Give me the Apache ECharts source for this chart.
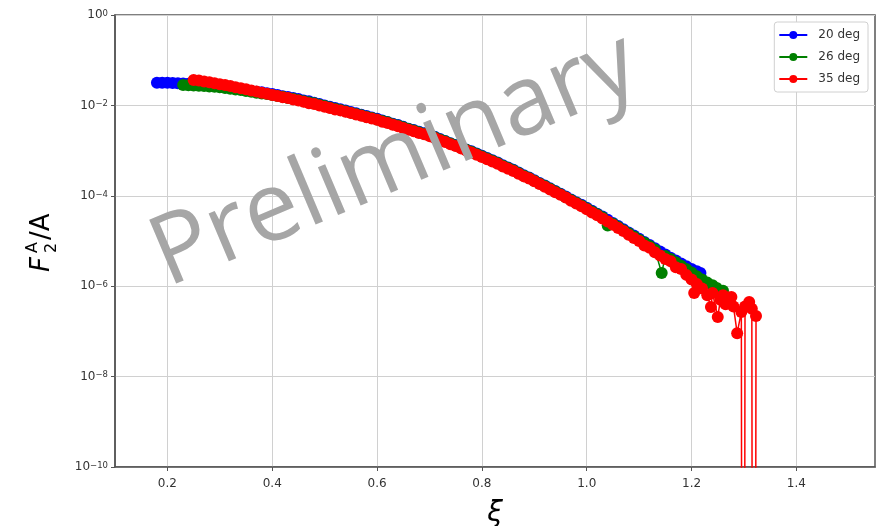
<!DOCTYPE html>
<html>
<head>
  <meta charset="UTF-8">
  <title>F2A/A vs xi</title>
  <script src="https://cdn.jsdelivr.net/npm/echarts@6.0.0/dist/echarts.min.js"></script>
  <style>
    html, body {
      margin: 0;
      padding: 0;
      width: 100%;
      height: 100%;
      background: #fff;
    }
    #main {
      width: 882px;
      height: 526px;
    }
  </style>
</head>
<body>
  <div id="main"></div>
  <script>
    const seriesNames = ['20 deg', '26 deg', '35 deg'];
    const seriesColors = ['#0000ff', '#008000', '#ff0000'];

    const xTicks = [0.2, 0.4, 0.6, 0.8, 1.0, 1.2, 1.4];

    // 20 deg
    const xi20 = [0.18, 0.19, 0.20, 0.21, 0.22, 0.23, 0.24, 0.25, 0.26, 0.27, 0.28, 0.29, 0.30,
      0.31, 0.32, 0.33, 0.34, 0.35, 0.36, 0.37, 0.38, 0.39, 0.40,
      0.41, 0.42, 0.43, 0.44, 0.45, 0.46, 0.47, 0.48, 0.49, 0.50,
      0.51, 0.52, 0.53, 0.54, 0.55, 0.56, 0.57, 0.58, 0.59, 0.60,
      0.61, 0.62, 0.63, 0.64, 0.65, 0.66, 0.67, 0.68, 0.69, 0.70,
      0.71, 0.72, 0.73, 0.74, 0.75, 0.76, 0.77, 0.78, 0.79, 0.80,
      0.81, 0.82, 0.83, 0.84, 0.85, 0.86, 0.87, 0.88, 0.89, 0.90,
      0.91, 0.92, 0.93, 0.94, 0.95, 0.96, 0.97, 0.98, 0.99, 1.00,
      1.01, 1.02, 1.03, 1.04, 1.05, 1.06, 1.07, 1.08, 1.09, 1.10,
      1.11, 1.12, 1.13, 1.14, 1.15, 1.16, 1.17, 1.18, 1.19, 1.20, 1.21, 1.217];
    const f20 = [3.16e-2, 3.16e-2, 3.16e-2, 3.13e-2, 3.09e-2, 3.05e-2, 3.02e-2, 2.95e-2, 2.88e-2, 2.82e-2, 2.75e-2, 2.69e-2, 2.63e-2,
      2.51e-2, 2.45e-2, 2.34e-2, 2.29e-2, 2.19e-2, 2.09e-2, 2.00e-2, 1.95e-2, 1.86e-2, 1.78e-2,
      1.70e-2, 1.60e-2, 1.53e-2, 1.45e-2, 1.38e-2, 1.29e-2, 1.23e-2, 1.15e-2, 1.07e-2, 1.00e-2,
      9.33e-3, 8.71e-3, 8.22e-3, 7.67e-3, 7.16e-3, 6.68e-3, 6.24e-3, 5.82e-3, 5.43e-3, 5.07e-3,
      4.62e-3, 4.32e-3, 3.94e-3, 3.67e-3, 3.35e-3, 3.05e-3, 2.85e-3, 2.60e-3, 2.43e-3, 2.21e-3,
      2.02e-3, 1.80e-3, 1.64e-3, 1.46e-3, 1.33e-3, 1.19e-3, 1.06e-3, 9.66e-4, 8.61e-4, 7.67e-4,
      6.84e-4, 6.10e-4, 5.43e-4, 4.73e-4, 4.22e-4, 3.76e-4, 3.27e-4, 2.85e-4, 2.54e-4, 2.21e-4,
      1.93e-4, 1.68e-4, 1.46e-4, 1.27e-4, 1.11e-4, 9.66e-5, 8.32e-5, 7.24e-5, 6.31e-5, 5.43e-5,
      4.68e-5, 4.03e-5, 3.47e-5, 2.95e-5, 2.51e-5, 2.14e-5, 1.82e-5, 1.55e-5, 1.32e-5, 1.12e-5,
      9.55e-6, 8.13e-6, 6.92e-6, 5.89e-6, 5.01e-6, 4.27e-6, 3.72e-6, 3.16e-6, 2.75e-6, 2.40e-6, 2.14e-6, 1.95e-6];

    // 26 deg
    const xi26 = [0.23, 0.24, 0.25, 0.26, 0.27, 0.28, 0.29, 0.30,
      0.31, 0.32, 0.33, 0.34, 0.35, 0.36, 0.37, 0.38, 0.39, 0.40,
      0.41, 0.42, 0.43, 0.44, 0.45, 0.46, 0.47, 0.48, 0.49, 0.50,
      0.51, 0.52, 0.53, 0.54, 0.55, 0.56, 0.57, 0.58, 0.59, 0.60,
      0.61, 0.62, 0.63, 0.64, 0.65, 0.66, 0.67, 0.68, 0.69, 0.70,
      0.71, 0.72, 0.73, 0.74, 0.75, 0.76, 0.77, 0.78, 0.79, 0.80,
      0.81, 0.82, 0.83, 0.84, 0.85, 0.86, 0.87, 0.88, 0.89, 0.90,
      0.91, 0.92, 0.93, 0.94, 0.95, 0.96, 0.97, 0.98, 0.99, 1.00,
      1.01, 1.02, 1.03, 1.04, 1.05, 1.06, 1.07, 1.08, 1.09, 1.10,
      1.11, 1.12, 1.13, 1.143, 1.15, 1.16, 1.17, 1.18, 1.19, 1.20,
      1.21, 1.22, 1.23, 1.24, 1.248, 1.26];
    const f26 = [2.82e-2, 2.79e-2, 2.75e-2, 2.72e-2, 2.69e-2, 2.63e-2, 2.57e-2, 2.51e-2,
      2.43e-2, 2.34e-2, 2.26e-2, 2.19e-2, 2.09e-2, 2.00e-2, 1.91e-2, 1.84e-2, 1.78e-2, 1.70e-2,
      1.62e-2, 1.55e-2, 1.46e-2, 1.40e-2, 1.32e-2, 1.24e-2, 1.17e-2, 1.11e-2, 1.04e-2, 9.66e-3,
      9.02e-3, 8.41e-3, 7.94e-3, 7.41e-3, 6.92e-3, 6.46e-3, 6.03e-3, 5.62e-3, 5.25e-3, 4.90e-3,
      4.52e-3, 4.22e-3, 3.85e-3, 3.59e-3, 3.27e-3, 2.99e-3, 2.79e-3, 2.54e-3, 2.37e-3, 2.16e-3,
      1.97e-3, 1.76e-3, 1.60e-3, 1.43e-3, 1.30e-3, 1.16e-3, 1.04e-3, 9.44e-4, 8.41e-4, 7.50e-4,
      6.68e-4, 5.96e-4, 5.31e-4, 4.62e-4, 4.12e-4, 3.67e-4, 3.20e-4, 2.79e-4, 2.48e-4, 2.16e-4,
      1.88e-4, 1.64e-4, 1.43e-4, 1.24e-4, 1.08e-4, 9.33e-5, 8.04e-5, 7.00e-5, 6.10e-5, 5.25e-5,
      4.52e-5, 3.89e-5, 3.35e-5, 2.19e-5, 2.40e-5, 2.04e-5, 1.74e-5, 1.48e-5, 1.26e-5, 1.07e-5,
      9.12e-6, 7.76e-6, 6.46e-6, 1.95e-6, 4.68e-6, 3.98e-6, 3.39e-6, 2.82e-6, 2.40e-6, 2.00e-6,
      1.66e-6, 1.41e-6, 1.20e-6, 1.05e-6, 9.12e-7, 7.94e-7];

    // 35 deg (1e-40 = points at or below zero, drawn off the bottom of the log axis)
    const xi35 = [0.25, 0.26, 0.27, 0.28, 0.29, 0.30, 0.31, 0.32, 0.33, 0.34, 0.35, 0.36, 0.37, 0.38, 0.39, 0.40,
      0.41, 0.42, 0.43, 0.44, 0.45, 0.46, 0.47, 0.48, 0.49, 0.50, 0.51, 0.52, 0.53, 0.54, 0.55,
      0.56, 0.57, 0.58, 0.59, 0.60, 0.61, 0.62, 0.63, 0.64, 0.65, 0.66, 0.67, 0.68, 0.69, 0.70,
      0.71, 0.72, 0.73, 0.74, 0.75, 0.76, 0.77, 0.78, 0.79, 0.80, 0.81, 0.82, 0.83, 0.84, 0.85,
      0.86, 0.87, 0.88, 0.89, 0.90, 0.91, 0.92, 0.93, 0.94, 0.95, 0.96, 0.97, 0.98, 0.99, 1.00,
      1.01, 1.02, 1.03, 1.04, 1.05, 1.06, 1.07, 1.08, 1.09, 1.10,
      1.11, 1.12, 1.13, 1.14, 1.15, 1.16, 1.17, 1.18, 1.19, 1.20, 1.205, 1.21, 1.22, 1.23, 1.237,
      1.24, 1.25, 1.255, 1.26, 1.265, 1.27, 1.276, 1.28, 1.287, 1.295, 1.2985, 1.302, 1.310, 1.315, 1.319, 1.323];
    const f35 = [3.63e-2, 3.55e-2, 3.39e-2, 3.24e-2, 3.09e-2, 2.95e-2, 2.82e-2, 2.69e-2, 2.51e-2, 2.40e-2, 2.29e-2, 2.14e-2, 2.04e-2, 1.91e-2, 1.82e-2, 1.70e-2,
      1.62e-2, 1.51e-2, 1.45e-2, 1.35e-2, 1.29e-2, 1.20e-2, 1.12e-2, 1.07e-2, 1.00e-2, 9.33e-3, 8.71e-3, 8.13e-3, 7.76e-3, 7.24e-3, 6.76e-3,
      6.31e-3, 5.89e-3, 5.50e-3, 5.13e-3, 4.79e-3, 4.37e-3, 4.07e-3, 3.72e-3, 3.47e-3, 3.16e-3, 2.88e-3, 2.69e-3, 2.45e-3, 2.29e-3, 2.09e-3,
      1.91e-3, 1.70e-3, 1.55e-3, 1.38e-3, 1.26e-3, 1.12e-3, 1.00e-3, 9.12e-4, 8.13e-4, 7.24e-4, 6.46e-4, 5.75e-4, 5.13e-4, 4.47e-4, 3.98e-4,
      3.55e-4, 3.09e-4, 2.69e-4, 2.40e-4, 2.09e-4, 1.82e-4, 1.58e-4, 1.38e-4, 1.20e-4, 1.05e-4, 9.12e-5, 7.76e-5, 6.76e-5, 5.89e-5, 5.01e-5,
      4.27e-5, 3.72e-5, 3.16e-5, 2.69e-5, 2.29e-5, 1.95e-5, 1.66e-5, 1.38e-5, 1.17e-5, 1.00e-5,
      7.94e-6, 7.08e-6, 5.62e-6, 4.79e-6, 3.98e-6, 3.55e-6, 2.63e-6, 2.40e-6, 1.78e-6, 1.41e-6, 7.08e-7, 1.12e-6, 8.91e-7, 6.31e-7, 3.47e-7,
      7.08e-7, 2.09e-7, 5.01e-7, 6.31e-7, 3.98e-7, 5.62e-7, 5.75e-7, 3.55e-7, 9.12e-8, 2.69e-7, 1e-40, 3.55e-7, 4.47e-7, 3.16e-7, 1e-40, 2.19e-7];

    const xiData = [xi20, xi26, xi35];
    const fData = [f20, f26, f35];

    const font = 'DejaVu Sans';
    const chart = echarts.init(document.getElementById('main'), null, { renderer: 'canvas' });

    const option = {
      animation: false,
      backgroundColor: '#fff',
      grid: {
        left: 115,
        right: 7,
        top: 15,
        bottom: 59,
        outerBoundsMode: 'none',
        containLabel: false,
        show: true,
        borderColor: '#555',
        borderWidth: 1.5,
        backgroundColor: 'transparent'
      },
      legend: {
        data: seriesNames,
        orient: 'vertical',
        right: 14,
        top: 22,
        itemWidth: 28,
        itemHeight: 10,
        itemGap: 10,
        padding: [7, 8, 7, 4],
        borderColor: '#d0d0d0',
        borderWidth: 1,
        borderRadius: 3,
        backgroundColor: '#fff',
        textStyle: { fontFamily: font, fontSize: 12, color: '#333', padding: [0, 0, 0, 6] }
      },
      xAxis: {
        type: 'value',
        min: 0.1,
        max: 1.55,
        name: 'ξ',
        nameLocation: 'middle',
        nameGap: 33,
        nameTextStyle: { fontFamily: font, fontStyle: 'italic', fontSize: 28, color: '#000' },
        axisLine: { show: true, lineStyle: { color: '#555', width: 1.5 } },
        axisTick: { show: true, length: 4, customValues: xTicks, lineStyle: { color: '#555' } },
        axisLabel: {
          customValues: xTicks,
          margin: 11,
          fontFamily: font,
          fontSize: 12,
          color: '#333',
          formatter: v => v.toFixed(1)
        },
        splitLine: { show: true, lineStyle: { color: '#d0d0d0', width: 1 } }
      },
      yAxis: {
        type: 'log',
        logBase: 100,
        min: 1e-10,
        max: 1,
        axisLine: { show: true, lineStyle: { color: '#555', width: 1.5 } },
        axisTick: { show: true, length: 4, lineStyle: { color: '#555' } },
        axisLabel: {
          margin: 7,
          fontFamily: font,
          fontSize: 12,
          color: '#333',
          formatter: v => {
            const e = Math.round(Math.log10(v));
            return '{b|10}{sup|' + (e < 0 ? '−' + (-e) : e) + '}';
          },
          rich: {
            b: { fontFamily: font, fontSize: 12, lineHeight: 12, color: '#333', verticalAlign: 'bottom' },
            sup: { fontFamily: font, fontSize: 8.5, lineHeight: 9, color: '#333', verticalAlign: 'top', padding: [0, 0, 6, 0] }
          }
        },
        splitLine: { show: true, lineStyle: { color: '#d0d0d0', width: 1 } }
      },
      series: seriesNames.map((name, i) => ({
        name: name,
        type: 'line',
        data: xiData[i].map((x, j) => [x, fData[i][j]]),
        symbol: 'circle',
        symbolSize: 12,
        showSymbol: true,
        clip: true,
        color: seriesColors[i],
        itemStyle: { color: seriesColors[i] },
        lineStyle: { color: seriesColors[i], width: 1.5 }
      })),
      graphic: [
        {
          type: 'group',
          x: 42,
          y: 242,
          rotation: Math.PI / 2,
          children: [
            { type: 'text', x: -30, y: 0, style: { text: 'F', fontFamily: font, fontStyle: 'italic', fontSize: 26, fill: '#000', align: 'left', verticalAlign: 'middle' } },
            { type: 'text', x: -11, y: 10, style: { text: '2', fontFamily: font, fontSize: 16, fill: '#000', align: 'left', verticalAlign: 'middle' } },
            { type: 'text', x: -11, y: -9, style: { text: 'A', fontFamily: font, fontSize: 16, fill: '#000', align: 'left', verticalAlign: 'middle' } },
            { type: 'text', x: 2, y: 0, style: { text: '/A', fontFamily: font, fontSize: 26, fill: '#000', align: 'left', verticalAlign: 'middle' } }
          ]
        },
        {
          type: 'text',
          x: 395,
          y: 161,
          rotation: 0.40,
          z: 100,
          style: { text: 'Preliminary', fontFamily: 'Open Sans', fontSize: 97, fill: '#a6a6a6', align: 'center', verticalAlign: 'middle' }
        }
      ]
    };

    chart.setOption(option);
  </script>
</body>
</html>
